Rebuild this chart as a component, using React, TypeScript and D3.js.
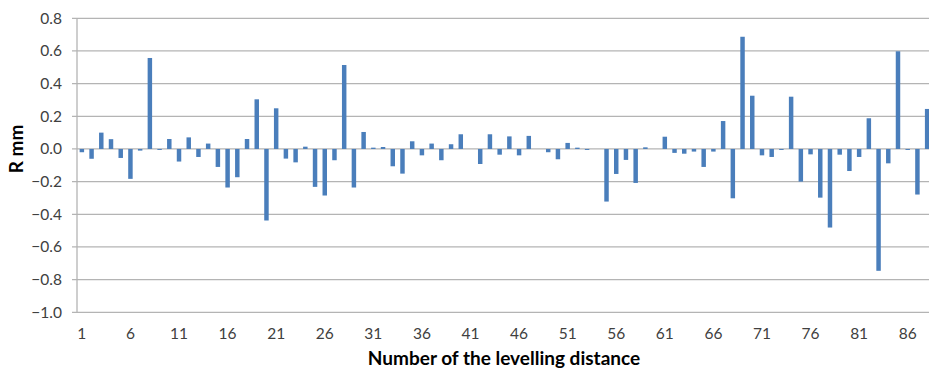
import React from "react";
import * as d3 from "d3";

// residuals R (mm) for each levelling distance 1..88
const distances: number[] = d3.range(1, 89);
const residuals: number[] = [
  -0.02, -0.06, 0.10, 0.06, -0.055, -0.183, -0.01, 0.557, -0.006, 0.061,
  -0.077, 0.071, -0.049, 0.033, -0.11, -0.236, -0.173, 0.061, 0.304, -0.438,
  0.249, -0.059, -0.082, 0.014, -0.232, -0.285, -0.069, 0.514, -0.236, 0.104,
  0.008, 0.012, -0.106, -0.151, 0.047, -0.039, 0.033, -0.069, 0.029, 0.09,
  0.0, -0.092, 0.09, -0.035, 0.077, -0.039, 0.08, 0.0, -0.02, -0.063,
  0.037, 0.008, -0.006, 0.0, -0.322, -0.153, -0.067, -0.208, 0.01, 0.0,
  0.075, -0.024, -0.029, -0.016, -0.11, -0.016, 0.171, -0.302, 0.687, 0.326,
  -0.039, -0.049, -0.006, 0.32, -0.2, -0.033, -0.298, -0.481, -0.035, -0.135,
  -0.049, 0.188, -0.746, -0.088, 0.598, -0.006, -0.279, 0.245,
];
const yTicks: number[] = [0.8, 0.6, 0.4, 0.2, 0, -0.2, -0.4, -0.6, -0.8, -1.0];
const xTickLabels: number[] = distances.filter((d) => (d - 1) % 5 === 0);

const width = 929;
const height = 372;
const font = "Lato, 'Open Sans', sans-serif";

const App = () => {
  const x = d3
    .scaleBand<number>()
    .domain(distances)
    .range([77, 932])
    .paddingInner(0.54)
    .paddingOuter(0.27);
  const y = d3.scaleLinear().domain([-1, 0.8]).range([312.3, 18.3]);
  const fmt = d3.format(".1f");

  return (
    <svg
      width={width}
      height={height}
      style={{ position: "absolute", left: 0, top: 0, background: "#fff" }}
    >
      {yTicks.map((t) => (
        <g key={t}>
          <line x1={72} x2={width} y1={y(t)} y2={y(t)} stroke="#b4b4b4" strokeWidth={1.3} />
          <text
            x={62}
            y={y(t)}
            dy="0.35em"
            textAnchor="end"
            fontFamily={font}
            fontSize={15.5}
            fill="#404040"
          >
            {fmt(t)}
          </text>
        </g>
      ))}
      <line x1={77} x2={77} y1={y(0.8)} y2={y(-1)} stroke="#b4b4b4" strokeWidth={1.3} />

      {residuals.map((v, i) => (
        <rect
          key={i}
          x={x(distances[i])}
          width={x.bandwidth()}
          y={y(Math.max(0, v))}
          height={Math.abs(y(v) - y(0))}
          fill="#4a7ebb"
        />
      ))}

      {xTickLabels.map((d) => (
        <text
          key={d}
          x={(x(d) || 0) + x.bandwidth() / 2}
          y={334}
          dy="0.35em"
          textAnchor="middle"
          fontFamily={font}
          fontSize={15.5}
          fill="#404040"
        >
          {d}
        </text>
      ))}

      <text
        x={504}
        y={358}
        dy="0.35em"
        textAnchor="middle"
        fontFamily={font}
        fontSize={19}
        fontWeight="bold"
        fill="#000"
      >
        Number of the levelling distance
      </text>
      <text
        transform={`translate(16,${y(0)}) rotate(-90)`}
        dy="0.35em"
        textAnchor="middle"
        fontFamily={font}
        fontSize={19}
        fontWeight="bold"
        fill="#000"
      >
        R mm
      </text>
    </svg>
  );
};

export default App;
